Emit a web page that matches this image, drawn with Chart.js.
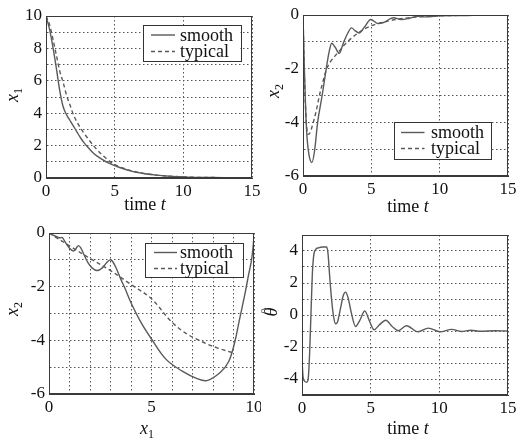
<!DOCTYPE html>
<html><head><meta charset="utf-8">
<script src="https://cdn.jsdelivr.net/npm/chart.js@4.4.0/dist/chart.umd.min.js"></script>
<style>
html,body{margin:0;padding:0;background:#fff;}
#wrap{position:relative;width:522px;height:441px;overflow:hidden;background:#fff;}
canvas{position:absolute;}
</style></head><body>
<div id="wrap">
<canvas id="c1" width="261" height="220" style="left:0px;top:0px;width:261px;height:220px"></canvas>
<canvas id="c2" width="261" height="220" style="left:261px;top:0px;width:261px;height:220px"></canvas>
<canvas id="c3" width="261" height="221" style="left:0px;top:220px;width:261px;height:221px"></canvas>
<canvas id="c4" width="261" height="221" style="left:261px;top:220px;width:261px;height:221px"></canvas>
</div>
<script>
// ---------- data ----------
const seriesNames = ['smooth', 'typical'];

// Panel 1: x1 vs time
const tX1Smooth  = [0,0.25,0.5,0.75,1,1.25,1.5,1.75,2,2.25,2.5,2.75,3,3.5,4,4.5,5,6,7,8,9,10,11,12,13,14,15];
const x1Smooth   = [10,9.2,8.1,6.8,5.4,4.4,3.9,3.55,3.2,2.85,2.5,2.2,1.95,1.5,1.2,0.95,0.77,0.47,0.29,0.18,0.11,0.07,0.04,0.03,0.02,0.01,0.01];
const tX1Typical = [0,0.25,0.5,0.75,1,1.25,1.5,1.75,2,2.5,3,3.5,4,4.5,5,6,7,8,9,10,11,12,13,14,15];
const x1Typical  = [10,9.5,8.6,7.6,6.6,5.9,5.1,4.5,3.9,3.1,2.5,1.95,1.5,1.12,0.82,0.5,0.3,0.18,0.11,0.07,0.04,0.03,0.02,0.01,0.01];

// Panel 2: x2 vs time
const tX2Smooth  = [0,0.1,0.2,0.3,0.45,0.65,0.85,1.07,1.4,1.7,1.9,2.1,2.35,2.65,2.95,3.25,3.55,3.8,4.1,4.5,4.95,5.5,5.9,6.6,7.2,7.8,8.4,9,10,11,12,13,14,15];
const x2Smooth   = [0,-2.0,-3.6,-4.6,-5.25,-5.5,-5.05,-4.0,-3.0,-2.0,-1.4,-1.05,-1.2,-1.43,-1.05,-0.7,-0.48,-0.58,-0.67,-0.45,-0.17,-0.32,-0.28,-0.1,-0.17,-0.12,-0.05,-0.07,-0.03,-0.02,-0.02,-0.01,-0.01,0];
const tX2Typical = [0,0.1,0.2,0.35,0.5,0.7,1.0,1.2,1.45,1.7,2.0,2.3,2.65,3.0,3.5,4,4.5,5,6,7,8,9,10,12,15];
const x2Typical  = [0,-2.2,-3.6,-4.45,-4.4,-4.1,-3.5,-3.0,-2.5,-2.05,-1.75,-1.55,-1.35,-1.13,-0.88,-0.68,-0.52,-0.4,-0.25,-0.15,-0.09,-0.05,-0.03,-0.01,0];

// Panel 3: phase plot x2 vs x1
const phX1Smooth = [0,0.2,0.45,0.55,0.65,0.8,1.0,1.19,1.3,1.43,1.55,1.7,1.9,2.1,2.35,2.6,2.8,2.98,3.12,3.3,3.5,3.7,4.0,4.5,5.0,5.7,6.5,7.2,7.7,8.35,8.76,9.05,9.3,9.55,9.75,9.88,9.97,10];
const phX2Smooth = [0,-0.08,-0.16,-0.18,-0.17,-0.35,-0.57,-0.67,-0.6,-0.47,-0.55,-0.8,-1.1,-1.3,-1.4,-1.3,-1.12,-1.0,-1.08,-1.35,-1.72,-2.05,-2.6,-3.35,-3.95,-4.7,-5.15,-5.42,-5.5,-5.2,-4.8,-4.1,-3.2,-2.3,-1.5,-1.0,-0.4,0];
const phX1Typical = [0,1,2,3,4,5,5.9,6.6,7.4,8.2,9.0];
const phX2Typical = [0,-0.48,-0.95,-1.4,-1.92,-2.45,-3.25,-3.7,-4.03,-4.28,-4.47];

// Panel 4: theta-hat vs time
const tTheta = [0,0.08,0.2,0.35,0.45,0.55,0.65,0.75,0.85,1.0,1.2,1.5,1.8,1.9,2.0,2.15,2.3,2.45,2.6,2.8,3.0,3.17,3.35,3.6,3.9,4.2,4.57,4.9,5.25,5.65,6.1,6.55,7.0,7.6,8.45,9.2,10.05,10.9,11.6,12.3,13,14,15];
const thetaHat = [-2.8,-3.9,-4.15,-4.2,-4.0,-2.5,0,2.5,3.7,4.1,4.2,4.25,4.25,3.8,2.6,1.0,-0.1,-0.55,-0.4,0.4,1.2,1.43,1.1,0.1,-0.72,-0.35,0.25,-0.35,-0.92,-0.6,-0.33,-0.7,-0.98,-0.67,-1.05,-0.82,-1.05,-0.9,-1.03,-0.95,-1.02,-0.98,-1.0];

// axis ticks (grid values) and labelled values
const timeGrid = [0,5,10,15];
const timeLabels = [0,5,10,15];
const x1Grid = [0,1,2,3,4,5,6,7,8,9,10];
const x1Labels = [0,2,4,6,8,10];
const x2Grid = [-6,-5,-4,-3,-2,-1,0];
const x2Labels = [-6,-4,-2,0];
const phaseXGrid = [0,1,2,3,4,5,6,7,8,9,10];
const phaseXLabels = [0,5,10];
const thetaGrid = [-5,-4,-3,-2,-1,0,1,2,3,4,5];
const thetaLabels = [-4,-2,0,2,4];

// ---------- helpers ----------
const FONT = '"Liberation Serif", "Times New Roman", serif';
const LINE = '#5a5a5a';
const pts = (xs, ys) => xs.map((x, i) => ({x, y: ys[i]}));

function drawParts(ctx, parts, cx, cy, rotate, size) {
  ctx.save();
  ctx.translate(cx, cy);
  if (rotate) ctx.rotate(-Math.PI / 2);
  const fontFor = s => (s === 'i' ? 'italic ' : '') + (s === 'sub' ? Math.round(size * 0.68) : (s === 'hat' ? Math.round(size * 0.8) : size)) + 'px ' + FONT;
  let w = 0;
  for (const [txt, s] of parts) { if (s === 'hat') continue; ctx.font = fontFor(s); w += ctx.measureText(txt).width; }
  let x = -w / 2, prevX = 0, prevW = 0;
  ctx.textBaseline = 'alphabetic';
  ctx.fillStyle = '#111';
  const base = size * 0.33;
  for (const [txt, s] of parts) {
    ctx.font = fontFor(s);
    if (s === 'hat') {
      ctx.textAlign = 'center';
      ctx.fillText(txt, prevX + prevW / 2 + 1, base - size * 0.45);
      ctx.textAlign = 'left';
      continue;
    }
    ctx.textAlign = 'left';
    ctx.fillText(txt, x, s === 'sub' ? base + size * 0.22 : base);
    prevX = x; prevW = ctx.measureText(txt).width;
    x += prevW;
  }
  ctx.restore();
}

function makeDecor(cfg) {
  return {
    id: 'decor',
    afterDatasetsDraw(chart) {
      const ctx = chart.ctx, a = chart.chartArea;
      ctx.save();
      ctx.strokeStyle = '#3a3a3a';
      ctx.lineWidth = 1;
      ctx.setLineDash([]);
      ctx.strokeRect(Math.round(a.left) + 0.5, Math.round(a.top) + 0.5, Math.round(a.right - a.left) - 1, Math.round(a.bottom - a.top) - 1);
      if (cfg.legend) {
        const L = cfg.legend;
        const [x0, y0, x1, y1] = L.box;
        ctx.fillStyle = '#fff';
        ctx.fillRect(x0, y0, x1 - x0, y1 - y0);
        ctx.strokeStyle = '#333';
        ctx.strokeRect(Math.round(x0) + 0.5, Math.round(y0) + 0.5, Math.round(x1 - x0), Math.round(y1 - y0));
        chart.data.datasets.forEach((ds, i) => {
          const y = L.rows[i];
          ctx.strokeStyle = ds.borderColor;
          ctx.lineWidth = ds.borderWidth;
          ctx.setLineDash(ds.borderDash || []);
          ctx.beginPath(); ctx.moveTo(L.line[0], y); ctx.lineTo(L.line[1], y); ctx.stroke();
          ctx.setLineDash([]);
          ctx.fillStyle = '#111';
          ctx.font = '18px ' + FONT;
          ctx.textBaseline = 'middle';
          ctx.fillText(ds.label, L.textX, y + 1);
        });
      }
      ctx.restore();
      drawParts(ctx, cfg.xTitle.parts, cfg.xTitle.x, cfg.xTitle.y, false, 18);
      drawParts(ctx, cfg.yTitle.parts, cfg.yTitle.x, cfg.yTitle.y, true, 18);
    }
  };
}

function axis(min, max, grid, labels, isX, size) {
  return {
    type: 'linear', min, max,
    afterBuildTicks: s => { s.ticks = grid.map(v => ({value: v})); },
    afterFit: s => {
      if (isX) s.height = size; else s.width = size;
      s.paddingLeft = 0; s.paddingRight = 0; s.paddingTop = 0; s.paddingBottom = 0;
    },
    ticks: {
      autoSkip: false, maxRotation: 0, minRotation: 0,
      padding: isX ? 3 : 4,
      color: '#111',
      font: {family: FONT, size: 17},
      callback: v => labels.includes(v) ? String(v) : ''
    },
    grid: {color: '#555', lineWidth: 1, drawTicks: false},
    border: {display: true, color: '#3a3a3a', width: 1, dash: [1.5, 2.5]}
  };
}

function makeChart(id, datasets, xs, ys, pad, cfg) {
  return new Chart(document.getElementById(id), {
    type: 'line',
    data: {datasets},
    options: {
      responsive: false, animation: false, devicePixelRatio: 1,
      layout: {padding: pad},
      plugins: {legend: {display: false}, tooltip: {enabled: false}},
      elements: {point: {radius: 0}},
      scales: {x: xs, y: ys}
    },
    plugins: [makeDecor(cfg)]
  });
}

const solid = (label, data, mono) => ({label, data, borderColor: LINE, borderWidth: 1.4, fill: false,
  cubicInterpolationMode: mono ? 'monotone' : 'default', tension: mono ? 0 : 0.35});
const dashed = (label, data, mono) => Object.assign(solid(label, data, mono), {borderDash: [4, 3]});

// Panel 1
makeChart('c1',
  [solid(seriesNames[0], pts(tX1Smooth, x1Smooth), true), dashed(seriesNames[1], pts(tX1Typical, x1Typical), true)],
  axis(0, 15, timeGrid, timeLabels, true, 30),
  axis(0, 10, x1Grid, x1Labels, false, 40),
  {left: 6, right: 9, top: 16, bottom: 12},
  {legend: {box: [142.5, 25, 240, 61], rows: [35, 51.5], line: [151, 175], textX: 180},
   xTitle: {parts: [['time ', 'n'], ['t', 'i']], x: 145, y: 204},
   yTitle: {parts: [['x', 'i'], ['1', 'sub']], x: 12, y: 95}});

// Panel 2
makeChart('c2',
  [solid(seriesNames[0], pts(tX2Smooth, x2Smooth), true), dashed(seriesNames[1], pts(tX2Typical, x2Typical), true)],
  axis(0, 15, timeGrid, timeLabels, true, 30),
  axis(-6, 0, x2Grid, x2Labels, false, 36),
  {left: 6, right: 14, top: 15, bottom: 14},
  {legend: {box: [132.5, 121.5, 229.5, 158.5], rows: [132.5, 148.5], line: [140, 163.5], textX: 170},
   xTitle: {parts: [['time ', 'n'], ['t', 'i']], x: 147, y: 206},
   yTitle: {parts: [['x', 'i'], ['2', 'sub']], x: 12, y: 91}});

// Panel 3
makeChart('c3',
  [solid(seriesNames[0], pts(phX1Smooth, phX2Smooth), false), dashed(seriesNames[1], pts(phX1Typical, phX2Typical), false)],
  axis(0, 10, phaseXGrid, phaseXLabels, true, 30),
  axis(-6, 0, x2Grid, x2Labels, false, 40),
  {left: 9, right: 7, top: 13, bottom: 17},
  {legend: {box: [145, 22.5, 242.5, 56.5], rows: [32.5, 48.5], line: [154, 177], textX: 180},
   xTitle: {parts: [['x', 'i'], ['1', 'sub']], x: 147, y: 208},
   yTitle: {parts: [['x', 'i'], ['2', 'sub']], x: 12.5, y: 89}});

// Panel 4
makeChart('c4',
  [solid('θ̂', pts(tTheta, thetaHat), true)],
  axis(0, 15, timeGrid, timeLabels, true, 30),
  axis(-5, 5, thetaGrid, thetaLabels, false, 36),
  {left: 5, right: 14, top: 15, bottom: 16},
  {legend: null,
   xTitle: {parts: [['time ', 'n'], ['t', 'i']], x: 147, y: 208},
   yTitle: {parts: [['θ', 'i'], ['^', 'hat']], x: 10, y: 92}});
</script>
</body></html>
